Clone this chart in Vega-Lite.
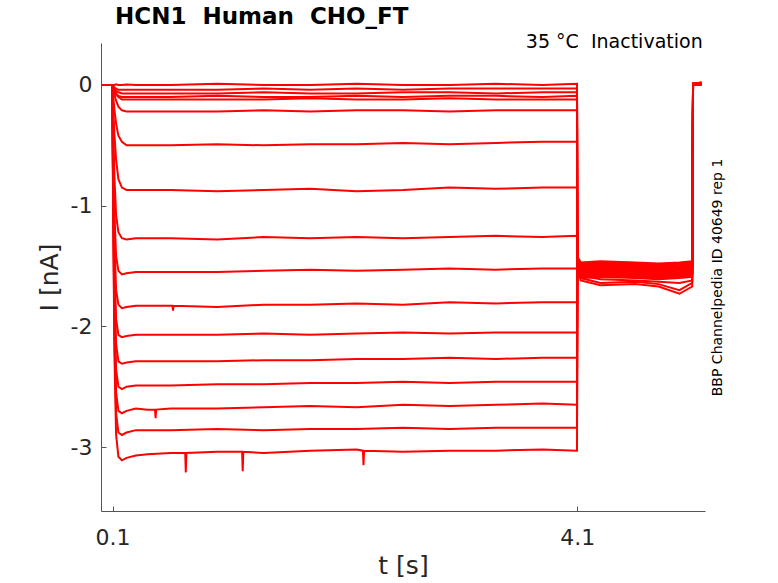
{
  "$schema": "https://vega.github.io/schema/vega-lite/v6.json",
  "description": "HCN1 Human CHO_FT inactivation current traces",
  "autosize": "none",
  "width": 604,
  "height": 468,
  "padding": {"left": 101, "top": 43, "right": 73, "bottom": 72},
  "background": "white",
  "title": {
    "text": "HCN1\u00a0\u00a0Human\u00a0\u00a0CHO_FT",
    "anchor": "start",
    "frame": "group",
    "dx": 14,
    "offset": 4,
    "font": "DejaVu Sans",
    "fontSize": 23,
    "fontWeight": "bold",
    "color": "#000000"
  },
  "config": {
    "view": {"stroke": null},
    "font": "DejaVu Sans"
  },
  "layer": [
    {
      "data": {
        "values": [
          {"k":1,"t":0,"i":0},{"k":1,"t":0.099,"i":0},{"k":1,"t":0.101,"i":0},{"k":1,"t":0.115,"i":0},{"k":1,"t":0.13,"i":0.005},{"k":1,"t":0.15,"i":0},{"k":1,"t":0.18,"i":0},{"k":1,"t":0.22,"i":0.005},{"k":1,"t":0.3,"i":0},{"k":1,"t":0.4,"i":0},{"k":1,"t":0.6,"i":0},{"k":1,"t":1.0,"i":0.01},{"k":1,"t":1.4,"i":0},{"k":1,"t":1.8,"i":0},{"k":1,"t":2.2,"i":0.01},{"k":1,"t":2.6,"i":0},{"k":1,"t":3.0,"i":0},{"k":1,"t":3.4,"i":0.01},{"k":1,"t":3.8,"i":0},{"k":1,"t":4.098,"i":0.01},{"k":1,"t":4.102,"i":-1.5},{"k":1,"t":4.13,"i":-1.62},{"k":1,"t":4.3,"i":-1.66},{"k":1,"t":4.6,"i":-1.65},{"k":1,"t":4.8,"i":-1.67},{"k":1,"t":4.98,"i":-1.73},{"k":1,"t":5.09,"i":-1.67},{"k":1,"t":5.097,"i":0.01},{"k":1,"t":5.17,"i":0.01},
          {"k":2,"t":0,"i":0},{"k":2,"t":0.099,"i":0},{"k":2,"t":0.101,"i":0},{"k":2,"t":0.115,"i":-0.02},{"k":2,"t":0.13,"i":-0.03},{"k":2,"t":0.15,"i":-0.04},{"k":2,"t":0.18,"i":-0.04},{"k":2,"t":0.22,"i":-0.04},{"k":2,"t":0.3,"i":-0.04},{"k":2,"t":0.4,"i":-0.04},{"k":2,"t":0.6,"i":-0.04},{"k":2,"t":1.0,"i":-0.04},{"k":2,"t":1.4,"i":-0.03},{"k":2,"t":1.8,"i":-0.04},{"k":2,"t":2.2,"i":-0.03},{"k":2,"t":2.6,"i":-0.04},{"k":2,"t":3.0,"i":-0.03},{"k":2,"t":3.4,"i":-0.03},{"k":2,"t":3.8,"i":-0.03},{"k":2,"t":4.098,"i":-0.03},{"k":2,"t":4.102,"i":-1.5},{"k":2,"t":4.13,"i":-1.6},{"k":2,"t":4.3,"i":-1.64},{"k":2,"t":4.6,"i":-1.63},{"k":2,"t":4.8,"i":-1.65},{"k":2,"t":4.98,"i":-1.7},{"k":2,"t":5.09,"i":-1.64},{"k":2,"t":5.097,"i":0},{"k":2,"t":5.17,"i":0.01},
          {"k":3,"t":0,"i":0},{"k":3,"t":0.099,"i":0},{"k":3,"t":0.101,"i":-0.01},{"k":3,"t":0.115,"i":-0.03},{"k":3,"t":0.13,"i":-0.05},{"k":3,"t":0.15,"i":-0.06},{"k":3,"t":0.18,"i":-0.07},{"k":3,"t":0.22,"i":-0.07},{"k":3,"t":0.3,"i":-0.07},{"k":3,"t":0.4,"i":-0.07},{"k":3,"t":0.6,"i":-0.07},{"k":3,"t":1.0,"i":-0.07},{"k":3,"t":1.4,"i":-0.06},{"k":3,"t":1.8,"i":-0.07},{"k":3,"t":2.2,"i":-0.07},{"k":3,"t":2.6,"i":-0.06},{"k":3,"t":3.0,"i":-0.06},{"k":3,"t":3.4,"i":-0.07},{"k":3,"t":3.8,"i":-0.06},{"k":3,"t":4.098,"i":-0.06},{"k":3,"t":4.102,"i":-1.5},{"k":3,"t":4.13,"i":-1.58},{"k":3,"t":4.3,"i":-1.61},{"k":3,"t":4.6,"i":-1.62},{"k":3,"t":4.8,"i":-1.63},{"k":3,"t":4.98,"i":-1.64},{"k":3,"t":5.09,"i":-1.62},{"k":3,"t":5.097,"i":0.01},{"k":3,"t":5.17,"i":0.02},
          {"k":4,"t":0,"i":0},{"k":4,"t":0.099,"i":0},{"k":4,"t":0.101,"i":-0.01},{"k":4,"t":0.115,"i":-0.04},{"k":4,"t":0.13,"i":-0.07},{"k":4,"t":0.15,"i":-0.09},{"k":4,"t":0.18,"i":-0.1},{"k":4,"t":0.22,"i":-0.1},{"k":4,"t":0.3,"i":-0.1},{"k":4,"t":0.4,"i":-0.1},{"k":4,"t":0.6,"i":-0.1},{"k":4,"t":1.0,"i":-0.09},{"k":4,"t":1.4,"i":-0.1},{"k":4,"t":1.8,"i":-0.1},{"k":4,"t":2.2,"i":-0.09},{"k":4,"t":2.6,"i":-0.1},{"k":4,"t":3.0,"i":-0.09},{"k":4,"t":3.4,"i":-0.09},{"k":4,"t":3.8,"i":-0.1},{"k":4,"t":4.098,"i":-0.09},{"k":4,"t":4.102,"i":-1.49},{"k":4,"t":4.13,"i":-1.6},{"k":4,"t":4.3,"i":-1.59},{"k":4,"t":4.6,"i":-1.6},{"k":4,"t":4.8,"i":-1.61},{"k":4,"t":4.98,"i":-1.6},{"k":4,"t":5.09,"i":-1.59},{"k":4,"t":5.097,"i":0.01},{"k":4,"t":5.17,"i":0},
          {"k":5,"t":0,"i":0},{"k":5,"t":0.099,"i":0},{"k":5,"t":0.101,"i":-0.01},{"k":5,"t":0.115,"i":-0.05},{"k":5,"t":0.13,"i":-0.08},{"k":5,"t":0.15,"i":-0.1},{"k":5,"t":0.18,"i":-0.12},{"k":5,"t":0.22,"i":-0.12},{"k":5,"t":0.3,"i":-0.12},{"k":5,"t":0.4,"i":-0.12},{"k":5,"t":0.6,"i":-0.12},{"k":5,"t":1.0,"i":-0.12},{"k":5,"t":1.4,"i":-0.12},{"k":5,"t":1.8,"i":-0.11},{"k":5,"t":2.2,"i":-0.12},{"k":5,"t":2.6,"i":-0.12},{"k":5,"t":3.0,"i":-0.11},{"k":5,"t":3.4,"i":-0.12},{"k":5,"t":3.8,"i":-0.12},{"k":5,"t":4.098,"i":-0.12},{"k":5,"t":4.102,"i":-1.48},{"k":5,"t":4.13,"i":-1.59},{"k":5,"t":4.3,"i":-1.58},{"k":5,"t":4.6,"i":-1.59},{"k":5,"t":4.8,"i":-1.6},{"k":5,"t":4.98,"i":-1.59},{"k":5,"t":5.09,"i":-1.58},{"k":5,"t":5.097,"i":0},{"k":5,"t":5.17,"i":0.01},
          {"k":6,"t":0,"i":0},{"k":6,"t":0.099,"i":0},{"k":6,"t":0.101,"i":-0.02},{"k":6,"t":0.115,"i":-0.08},{"k":6,"t":0.13,"i":-0.13},{"k":6,"t":0.15,"i":-0.18},{"k":6,"t":0.18,"i":-0.21},{"k":6,"t":0.22,"i":-0.22},{"k":6,"t":0.3,"i":-0.22},{"k":6,"t":0.4,"i":-0.22},{"k":6,"t":0.6,"i":-0.22},{"k":6,"t":1.0,"i":-0.22},{"k":6,"t":1.4,"i":-0.21},{"k":6,"t":1.8,"i":-0.22},{"k":6,"t":2.2,"i":-0.21},{"k":6,"t":2.6,"i":-0.21},{"k":6,"t":3.0,"i":-0.22},{"k":6,"t":3.4,"i":-0.21},{"k":6,"t":3.8,"i":-0.21},{"k":6,"t":4.098,"i":-0.21},{"k":6,"t":4.102,"i":-1.48},{"k":6,"t":4.13,"i":-1.58},{"k":6,"t":4.3,"i":-1.57},{"k":6,"t":4.6,"i":-1.58},{"k":6,"t":4.8,"i":-1.59},{"k":6,"t":4.98,"i":-1.58},{"k":6,"t":5.09,"i":-1.57},{"k":6,"t":5.097,"i":0.01},{"k":6,"t":5.17,"i":0.01},
          {"k":7,"t":0,"i":0},{"k":7,"t":0.099,"i":0},{"k":7,"t":0.101,"i":-0.05},{"k":7,"t":0.115,"i":-0.2},{"k":7,"t":0.13,"i":-0.32},{"k":7,"t":0.15,"i":-0.42},{"k":7,"t":0.18,"i":-0.47},{"k":7,"t":0.22,"i":-0.5},{"k":7,"t":0.3,"i":-0.5},{"k":7,"t":0.4,"i":-0.5},{"k":7,"t":0.6,"i":-0.5},{"k":7,"t":1.0,"i":-0.49},{"k":7,"t":1.4,"i":-0.5},{"k":7,"t":1.8,"i":-0.49},{"k":7,"t":2.2,"i":-0.49},{"k":7,"t":2.6,"i":-0.48},{"k":7,"t":3.0,"i":-0.49},{"k":7,"t":3.4,"i":-0.48},{"k":7,"t":3.8,"i":-0.47},{"k":7,"t":4.098,"i":-0.47},{"k":7,"t":4.102,"i":-1.47},{"k":7,"t":4.13,"i":-1.57},{"k":7,"t":4.3,"i":-1.56},{"k":7,"t":4.6,"i":-1.57},{"k":7,"t":4.8,"i":-1.58},{"k":7,"t":4.98,"i":-1.57},{"k":7,"t":5.09,"i":-1.56},{"k":7,"t":5.097,"i":0},{"k":7,"t":5.17,"i":0.02},
          {"k":8,"t":0,"i":0},{"k":8,"t":0.099,"i":0},{"k":8,"t":0.101,"i":-0.1},{"k":8,"t":0.115,"i":-0.4},{"k":8,"t":0.13,"i":-0.62},{"k":8,"t":0.15,"i":-0.78},{"k":8,"t":0.18,"i":-0.85},{"k":8,"t":0.22,"i":-0.87},{"k":8,"t":0.3,"i":-0.87},{"k":8,"t":0.4,"i":-0.87},{"k":8,"t":0.6,"i":-0.87},{"k":8,"t":1.0,"i":-0.88},{"k":8,"t":1.4,"i":-0.87},{"k":8,"t":1.8,"i":-0.86},{"k":8,"t":2.2,"i":-0.88},{"k":8,"t":2.6,"i":-0.87},{"k":8,"t":3.0,"i":-0.85},{"k":8,"t":3.4,"i":-0.86},{"k":8,"t":3.8,"i":-0.85},{"k":8,"t":4.098,"i":-0.85},{"k":8,"t":4.102,"i":-1.47},{"k":8,"t":4.13,"i":-1.56},{"k":8,"t":4.3,"i":-1.55},{"k":8,"t":4.6,"i":-1.56},{"k":8,"t":4.8,"i":-1.57},{"k":8,"t":4.98,"i":-1.56},{"k":8,"t":5.09,"i":-1.55},{"k":8,"t":5.097,"i":0.01},{"k":8,"t":5.17,"i":0.01},
          {"k":9,"t":0,"i":0},{"k":9,"t":0.099,"i":0},{"k":9,"t":0.101,"i":-0.2},{"k":9,"t":0.115,"i":-0.75},{"k":9,"t":0.13,"i":-1.08},{"k":9,"t":0.15,"i":-1.22},{"k":9,"t":0.18,"i":-1.27},{"k":9,"t":0.22,"i":-1.28},{"k":9,"t":0.3,"i":-1.27},{"k":9,"t":0.4,"i":-1.27},{"k":9,"t":0.6,"i":-1.27},{"k":9,"t":1.0,"i":-1.28},{"k":9,"t":1.4,"i":-1.26},{"k":9,"t":1.8,"i":-1.27},{"k":9,"t":2.2,"i":-1.26},{"k":9,"t":2.6,"i":-1.27},{"k":9,"t":3.0,"i":-1.26},{"k":9,"t":3.4,"i":-1.25},{"k":9,"t":3.8,"i":-1.26},{"k":9,"t":4.098,"i":-1.25},{"k":9,"t":4.102,"i":-1.46},{"k":9,"t":4.13,"i":-1.55},{"k":9,"t":4.3,"i":-1.54},{"k":9,"t":4.6,"i":-1.55},{"k":9,"t":4.8,"i":-1.56},{"k":9,"t":4.98,"i":-1.55},{"k":9,"t":5.09,"i":-1.54},{"k":9,"t":5.097,"i":0},{"k":9,"t":5.17,"i":0.01},
          {"k":10,"t":0,"i":0},{"k":10,"t":0.099,"i":0},{"k":10,"t":0.101,"i":-0.28},{"k":10,"t":0.115,"i":-1.05},{"k":10,"t":0.13,"i":-1.42},{"k":10,"t":0.15,"i":-1.54},{"k":10,"t":0.18,"i":-1.57},{"k":10,"t":0.22,"i":-1.56},{"k":10,"t":0.3,"i":-1.55},{"k":10,"t":0.4,"i":-1.55},{"k":10,"t":0.6,"i":-1.55},{"k":10,"t":1.0,"i":-1.55},{"k":10,"t":1.4,"i":-1.54},{"k":10,"t":1.8,"i":-1.53},{"k":10,"t":2.2,"i":-1.54},{"k":10,"t":2.6,"i":-1.53},{"k":10,"t":3.0,"i":-1.52},{"k":10,"t":3.4,"i":-1.53},{"k":10,"t":3.8,"i":-1.52},{"k":10,"t":4.098,"i":-1.52},{"k":10,"t":4.102,"i":-1.46},{"k":10,"t":4.13,"i":-1.54},{"k":10,"t":4.3,"i":-1.53},{"k":10,"t":4.6,"i":-1.54},{"k":10,"t":4.8,"i":-1.55},{"k":10,"t":4.98,"i":-1.54},{"k":10,"t":5.09,"i":-1.53},{"k":10,"t":5.097,"i":0.01},{"k":10,"t":5.17,"i":0},
          {"k":11,"t":0,"i":0},{"k":11,"t":0.099,"i":0},{"k":11,"t":0.101,"i":-0.33},{"k":11,"t":0.115,"i":-1.27},{"k":11,"t":0.13,"i":-1.7},{"k":11,"t":0.15,"i":-1.82},{"k":11,"t":0.18,"i":-1.85},{"k":11,"t":0.22,"i":-1.84},{"k":11,"t":0.3,"i":-1.83},{"k":11,"t":0.4,"i":-1.83},{"k":11,"t":0.6,"i":-1.83},{"k":11,"t":0.615,"i":-1.83},{"k":11,"t":0.62,"i":-1.87},{"k":11,"t":0.625,"i":-1.83},{"k":11,"t":1.0,"i":-1.84},{"k":11,"t":1.4,"i":-1.82},{"k":11,"t":1.8,"i":-1.82},{"k":11,"t":2.2,"i":-1.81},{"k":11,"t":2.6,"i":-1.82},{"k":11,"t":3.0,"i":-1.8},{"k":11,"t":3.4,"i":-1.81},{"k":11,"t":3.8,"i":-1.8},{"k":11,"t":4.098,"i":-1.8},{"k":11,"t":4.102,"i":-1.45},{"k":11,"t":4.13,"i":-1.53},{"k":11,"t":4.3,"i":-1.52},{"k":11,"t":4.6,"i":-1.53},{"k":11,"t":4.8,"i":-1.54},{"k":11,"t":4.98,"i":-1.53},{"k":11,"t":5.09,"i":-1.52},{"k":11,"t":5.097,"i":0.01},{"k":11,"t":5.17,"i":0.01},
          {"k":12,"t":0,"i":0},{"k":12,"t":0.099,"i":0},{"k":12,"t":0.101,"i":-0.38},{"k":12,"t":0.115,"i":-1.45},{"k":12,"t":0.13,"i":-1.94},{"k":12,"t":0.15,"i":-2.07},{"k":12,"t":0.18,"i":-2.09},{"k":12,"t":0.22,"i":-2.08},{"k":12,"t":0.3,"i":-2.07},{"k":12,"t":0.4,"i":-2.07},{"k":12,"t":0.6,"i":-2.07},{"k":12,"t":1.0,"i":-2.07},{"k":12,"t":1.4,"i":-2.06},{"k":12,"t":1.8,"i":-2.07},{"k":12,"t":2.2,"i":-2.06},{"k":12,"t":2.6,"i":-2.05},{"k":12,"t":3.0,"i":-2.06},{"k":12,"t":3.4,"i":-2.05},{"k":12,"t":3.8,"i":-2.05},{"k":12,"t":4.098,"i":-2.05},{"k":12,"t":4.102,"i":-1.45},{"k":12,"t":4.13,"i":-1.52},{"k":12,"t":4.3,"i":-1.51},{"k":12,"t":4.6,"i":-1.52},{"k":12,"t":4.8,"i":-1.53},{"k":12,"t":4.98,"i":-1.52},{"k":12,"t":5.09,"i":-1.51},{"k":12,"t":5.097,"i":0},{"k":12,"t":5.17,"i":0.01},
          {"k":13,"t":0,"i":0},{"k":13,"t":0.099,"i":0},{"k":13,"t":0.101,"i":-0.42},{"k":13,"t":0.115,"i":-1.6},{"k":13,"t":0.13,"i":-2.15},{"k":13,"t":0.15,"i":-2.29},{"k":13,"t":0.18,"i":-2.31},{"k":13,"t":0.22,"i":-2.3},{"k":13,"t":0.3,"i":-2.29},{"k":13,"t":0.4,"i":-2.29},{"k":13,"t":0.6,"i":-2.29},{"k":13,"t":1.0,"i":-2.29},{"k":13,"t":1.4,"i":-2.28},{"k":13,"t":1.8,"i":-2.28},{"k":13,"t":2.2,"i":-2.27},{"k":13,"t":2.6,"i":-2.27},{"k":13,"t":3.0,"i":-2.26},{"k":13,"t":3.4,"i":-2.27},{"k":13,"t":3.8,"i":-2.26},{"k":13,"t":4.098,"i":-2.26},{"k":13,"t":4.102,"i":-1.44},{"k":13,"t":4.13,"i":-1.51},{"k":13,"t":4.3,"i":-1.5},{"k":13,"t":4.6,"i":-1.51},{"k":13,"t":4.8,"i":-1.52},{"k":13,"t":4.98,"i":-1.51},{"k":13,"t":5.09,"i":-1.5},{"k":13,"t":5.097,"i":0.01},{"k":13,"t":5.17,"i":0.01},
          {"k":14,"t":0,"i":0},{"k":14,"t":0.099,"i":0},{"k":14,"t":0.101,"i":-0.45},{"k":14,"t":0.115,"i":-1.75},{"k":14,"t":0.13,"i":-2.36},{"k":14,"t":0.15,"i":-2.5},{"k":14,"t":0.18,"i":-2.52},{"k":14,"t":0.22,"i":-2.5},{"k":14,"t":0.3,"i":-2.49},{"k":14,"t":0.4,"i":-2.49},{"k":14,"t":0.6,"i":-2.49},{"k":14,"t":1.0,"i":-2.48},{"k":14,"t":1.4,"i":-2.48},{"k":14,"t":1.8,"i":-2.47},{"k":14,"t":2.2,"i":-2.47},{"k":14,"t":2.6,"i":-2.46},{"k":14,"t":3.0,"i":-2.47},{"k":14,"t":3.4,"i":-2.46},{"k":14,"t":3.8,"i":-2.46},{"k":14,"t":4.098,"i":-2.46},{"k":14,"t":4.102,"i":-1.44},{"k":14,"t":4.13,"i":-1.5},{"k":14,"t":4.3,"i":-1.49},{"k":14,"t":4.6,"i":-1.5},{"k":14,"t":4.8,"i":-1.51},{"k":14,"t":4.98,"i":-1.5},{"k":14,"t":5.09,"i":-1.49},{"k":14,"t":5.097,"i":0},{"k":14,"t":5.17,"i":0.01},
          {"k":15,"t":0,"i":0},{"k":15,"t":0.099,"i":0},{"k":15,"t":0.101,"i":-0.5},{"k":15,"t":0.115,"i":-1.9},{"k":15,"t":0.13,"i":-2.55},{"k":15,"t":0.15,"i":-2.7},{"k":15,"t":0.18,"i":-2.72},{"k":15,"t":0.22,"i":-2.7},{"k":15,"t":0.3,"i":-2.68},{"k":15,"t":0.4,"i":-2.69},{"k":15,"t":0.465,"i":-2.69},{"k":15,"t":0.47,"i":-2.76},{"k":15,"t":0.475,"i":-2.69},{"k":15,"t":0.6,"i":-2.68},{"k":15,"t":1.0,"i":-2.68},{"k":15,"t":1.4,"i":-2.67},{"k":15,"t":1.8,"i":-2.66},{"k":15,"t":2.2,"i":-2.67},{"k":15,"t":2.6,"i":-2.65},{"k":15,"t":3.0,"i":-2.66},{"k":15,"t":3.4,"i":-2.65},{"k":15,"t":3.8,"i":-2.64},{"k":15,"t":4.098,"i":-2.65},{"k":15,"t":4.102,"i":-1.43},{"k":15,"t":4.13,"i":-1.49},{"k":15,"t":4.3,"i":-1.48},{"k":15,"t":4.6,"i":-1.49},{"k":15,"t":4.8,"i":-1.5},{"k":15,"t":4.98,"i":-1.49},{"k":15,"t":5.09,"i":-1.48},{"k":15,"t":5.097,"i":0.01},{"k":15,"t":5.17,"i":0},
          {"k":16,"t":0,"i":0},{"k":16,"t":0.099,"i":0},{"k":16,"t":0.101,"i":-0.55},{"k":16,"t":0.115,"i":-2.05},{"k":16,"t":0.13,"i":-2.72},{"k":16,"t":0.15,"i":-2.88},{"k":16,"t":0.18,"i":-2.9},{"k":16,"t":0.22,"i":-2.88},{"k":16,"t":0.3,"i":-2.86},{"k":16,"t":0.4,"i":-2.86},{"k":16,"t":0.6,"i":-2.86},{"k":16,"t":1.0,"i":-2.85},{"k":16,"t":1.4,"i":-2.86},{"k":16,"t":1.8,"i":-2.85},{"k":16,"t":2.2,"i":-2.85},{"k":16,"t":2.6,"i":-2.84},{"k":16,"t":3.0,"i":-2.85},{"k":16,"t":3.4,"i":-2.84},{"k":16,"t":3.8,"i":-2.84},{"k":16,"t":4.098,"i":-2.84},{"k":16,"t":4.102,"i":-1.43},{"k":16,"t":4.13,"i":-1.48},{"k":16,"t":4.3,"i":-1.47},{"k":16,"t":4.6,"i":-1.48},{"k":16,"t":4.8,"i":-1.49},{"k":16,"t":4.98,"i":-1.48},{"k":16,"t":5.09,"i":-1.47},{"k":16,"t":5.097,"i":0.01},{"k":16,"t":5.17,"i":0.01},
          {"k":17,"t":0,"i":0},{"k":17,"t":0.099,"i":0},{"k":17,"t":0.101,"i":-0.6},{"k":17,"t":0.115,"i":-2.2},{"k":17,"t":0.13,"i":-2.9},{"k":17,"t":0.15,"i":-3.08},{"k":17,"t":0.18,"i":-3.11},{"k":17,"t":0.22,"i":-3.09},{"k":17,"t":0.3,"i":-3.07},{"k":17,"t":0.4,"i":-3.06},{"k":17,"t":0.6,"i":-3.05},{"k":17,"t":0.725,"i":-3.05},{"k":17,"t":0.73,"i":-3.21},{"k":17,"t":0.735,"i":-3.05},{"k":17,"t":1.0,"i":-3.04},{"k":17,"t":1.215,"i":-3.04},{"k":17,"t":1.22,"i":-3.2},{"k":17,"t":1.225,"i":-3.04},{"k":17,"t":1.4,"i":-3.05},{"k":17,"t":1.8,"i":-3.03},{"k":17,"t":2.2,"i":-3.02},{"k":17,"t":2.255,"i":-3.03},{"k":17,"t":2.26,"i":-3.15},{"k":17,"t":2.265,"i":-3.03},{"k":17,"t":2.6,"i":-3.04},{"k":17,"t":3.0,"i":-3.03},{"k":17,"t":3.4,"i":-3.03},{"k":17,"t":3.8,"i":-3.02},{"k":17,"t":4.098,"i":-3.03},{"k":17,"t":4.102,"i":-1.42},{"k":17,"t":4.13,"i":-1.47},{"k":17,"t":4.3,"i":-1.46},{"k":17,"t":4.6,"i":-1.47},{"k":17,"t":4.8,"i":-1.48},{"k":17,"t":4.98,"i":-1.47},{"k":17,"t":5.09,"i":-1.46},{"k":17,"t":5.097,"i":0.01},{"k":17,"t":5.17,"i":0.02}
        ]
      },
      "mark": {"type": "line", "color": "#ff0000", "strokeWidth": 2},
      "encoding": {
        "x": {
          "field": "t",
          "type": "quantitative",
          "scale": {"domain": [0, 5.2], "nice": false, "zero": false},
          "axis": {
            "title": "t [s]",
            "values": [0.1, 4.1],
            "grid": false,
            "domainColor": "#555555",
            "tickColor": "#555555",
            "tickSize": -5,
            "labelPadding": 21,
            "labelFontSize": 22,
            "labelColor": "#262626",
            "labelFont": "DejaVu Sans",
            "titleFont": "DejaVu Sans",
            "titleFontSize": 25,
            "titleFontWeight": "normal",
            "titleColor": "#262626",
            "titlePadding": 5
          }
        },
        "y": {
          "field": "i",
          "type": "quantitative",
          "scale": {"domain": [-3.53, 0.348], "nice": false, "zero": false},
          "axis": {
            "title": "I [nA]",
            "values": [0, -1, -2, -3],
            "labelExpr": "datum.value == 0 ? '0\u00a0' : replace(format(datum.value, 'd'), '\u2212', '-')",
            "grid": false,
            "domainColor": "#555555",
            "tickColor": "#555555",
            "tickSize": -5,
            "labelPadding": 14,
            "labelFontSize": 22,
            "labelColor": "#262626",
            "labelFont": "DejaVu Sans",
            "titleFont": "DejaVu Sans",
            "titleFontSize": 25,
            "titleFontWeight": "normal",
            "titleColor": "#262626",
            "titlePadding": 8
          }
        },
        "detail": {"field": "k", "type": "nominal"}
      }
    },
    {
      "data": {"values": [{"label": "35 °C\u00a0\u00a0Inactivation"}]},
      "mark": {
        "type": "text",
        "align": "right",
        "baseline": "alphabetic",
        "font": "DejaVu Sans",
        "fontSize": 19,
        "color": "#000000"
      },
      "encoding": {
        "x": {"datum": 5.18, "type": "quantitative"},
        "y": {"datum": 0.305, "type": "quantitative"},
        "text": {"field": "label"}
      }
    },
    {
      "data": {"values": [{"label": "BBP Channelpedia ID 40649 rep 1"}]},
      "mark": {
        "type": "text",
        "align": "center",
        "baseline": "alphabetic",
        "angle": 270,
        "font": "DejaVu Sans",
        "fontSize": 14,
        "color": "#000000"
      },
      "encoding": {
        "x": {"datum": 5.35, "type": "quantitative"},
        "y": {"datum": -1.595, "type": "quantitative"},
        "text": {"field": "label"}
      }
    }
  ]
}
